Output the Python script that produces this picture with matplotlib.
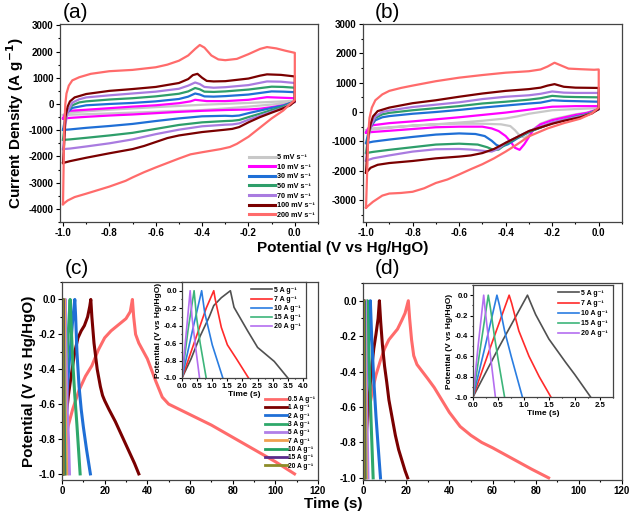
import matplotlib
matplotlib.use("Agg")
import matplotlib.pyplot as plt
from matplotlib.ticker import MultipleLocator

plt.rcParams['font.family'] = ['Liberation Sans', 'DejaVu Sans']
plt.rcParams['font.weight'] = 'bold'
plt.rcParams['axes.unicode_minus'] = False
plt.rcParams['mathtext.default'] = 'bf'

# ---------------- (a) CV data ----------------
cv_labels = ['5 mV s⁻¹', '10 mV s⁻¹', '30 mV s⁻¹', '50 mV s⁻¹',
             '70 mV s⁻¹', '100 mV s⁻¹', '200 mV s⁻¹']
cv_colors = ['#C8C8C8', '#FF00FF', '#1F6FD6', '#2E9E6A', '#A97BE0', '#7A0000', '#FF6B6B']

a5_E = [-1.0, -0.98, -0.9, -0.8, -0.6, -0.4, -0.2, -0.1, 0.0, 0.0, -0.1, -0.2, -0.3, -0.4, -0.6, -0.8, -1.0]
a5_I = [-420, -330, -280, -220, -120, -30, 40, 80, 120, 60, -20, -100, -170, -230, -300, -360, -420]
a10_E = [-1.0, -0.99, -0.97, -0.9, -0.8, -0.7, -0.6, -0.5, -0.45, -0.43, -0.41, -0.38, -0.3, -0.2, -0.12, -0.06, 0.0, 0.0,
         -0.05, -0.1, -0.15, -0.2, -0.3, -0.4, -0.5, -0.6, -0.7, -0.8, -0.9, -0.97, -1.0]
a10_I = [-550, -350, -260, -220, -160, -100, -50, 30, 100, 160, 140, 110, 110, 160, 260, 240, 220, 80,
         -50, -120, -180, -210, -230, -260, -300, -350, -400, -440, -490, -530, -550]
a30_E = [-1.0, -0.99, -0.98, -0.96, -0.9, -0.8, -0.7, -0.6, -0.5, -0.46, -0.43, -0.41, -0.39, -0.35, -0.3, -0.2, -0.1, -0.05, 0.0, 0.0,
         -0.05, -0.1, -0.15, -0.2, -0.24, -0.27, -0.3, -0.4, -0.5, -0.6, -0.7, -0.8, -0.9, -0.97, -1.0]
a30_I = [-990, -500, -300, -150, -50, 0, 40, 100, 190, 280, 400, 360, 290, 280, 300, 360, 480, 470, 450, 100,
         -60, -150, -250, -350, -440, -460, -450, -470, -550, -650, -760, -840, -910, -970, -990]
a50_E = [-1.0, -0.99, -0.98, -0.96, -0.93, -0.9, -0.8, -0.7, -0.6, -0.5, -0.46, -0.43, -0.41, -0.39, -0.35, -0.3, -0.2, -0.1, -0.05, 0.0, 0.0,
         -0.05, -0.1, -0.15, -0.2, -0.24, -0.27, -0.3, -0.4, -0.5, -0.6, -0.7, -0.8, -0.9, -0.97, -1.0]
a50_I = [-1370, -600, -250, -50, 60, 100, 170, 220, 290, 390, 480, 610, 560, 470, 460, 480, 550, 660, 650, 620, 100,
         -100, -230, -370, -500, -610, -640, -650, -700, -800, -950, -1100, -1200, -1290, -1350, -1370]
a70_E = [-1.0, -0.99, -0.98, -0.96, -0.93, -0.9, -0.8, -0.7, -0.6, -0.5, -0.46, -0.43, -0.41, -0.39, -0.35, -0.3, -0.2, -0.12, -0.06, 0.0, 0.0,
         -0.05, -0.1, -0.15, -0.2, -0.24, -0.27, -0.3, -0.4, -0.5, -0.6, -0.7, -0.8, -0.9, -0.97, -1.0]
a70_I = [-1720, -800, -300, 50, 180, 250, 330, 400, 470, 580, 700, 820, 760, 650, 620, 640, 720, 860, 850, 800, 100,
         -150, -300, -450, -600, -740, -780, -790, -850, -980, -1150, -1350, -1500, -1620, -1700, -1720]
a100_E = [-1.0, -0.995, -0.99, -0.98, -0.97, -0.95, -0.9, -0.8, -0.7, -0.6, -0.5, -0.46, -0.44, -0.42, -0.4, -0.38, -0.35, -0.3, -0.2, -0.15,
          -0.12, -0.06, 0.0, 0.0, -0.02, -0.06, -0.1, -0.15, -0.2, -0.24, -0.27, -0.3, -0.4, -0.5, -0.55, -0.6, -0.65, -0.7, -0.8, -0.9, -0.97, -1.0]
a100_I = [-2250, -1500, -500, -100, 100, 250, 380, 500, 570, 650, 800, 950, 1100, 1150, 1000, 880, 860, 870, 970, 1080,
          1130, 1110, 1050, 100, -50, -200, -330, -500, -700, -880, -950, -980, -1070, -1200, -1300, -1450, -1600, -1720, -1880, -2050, -2180, -2250]
a200_E = [-1.0, -0.995, -0.99, -0.985, -0.975, -0.96, -0.93, -0.88, -0.8, -0.7, -0.6, -0.55, -0.5, -0.46, -0.43, -0.41, -0.39, -0.36,
          -0.33, -0.3, -0.25, -0.2, -0.15, -0.12, -0.08, -0.04, 0.0, 0.0, -0.02, -0.05, -0.1, -0.15, -0.2, -0.25, -0.28, -0.32, -0.4,
          -0.45, -0.5, -0.55, -0.6, -0.65, -0.7, -0.73, -0.8, -0.9, -0.95, -0.98, -1.0]
a200_I = [-3820, -1000, 0, 400, 700, 900, 1020, 1150, 1250, 1300, 1400, 1500, 1650, 1850, 2100, 2250, 2150, 1850,
          1700, 1670, 1720, 1900, 2100, 2170, 2120, 2030, 1950, 150, 0, -250, -550, -900, -1250, -1520, -1640, -1720, -1840,
          -1920, -2080, -2250, -2420, -2600, -2800, -2930, -3150, -3420, -3550, -3680, -3820]

# ---------------- (b) CV data ----------------
b5_E = [-1.0, -0.98, -0.9, -0.8, -0.7, -0.6, -0.5, -0.4, -0.35, -0.3, -0.25, -0.2, -0.1, 0.0, 0.0,
        -0.05, -0.1, -0.2, -0.25, -0.28, -0.3, -0.32, -0.34, -0.36, -0.38, -0.42, -0.5, -0.6, -0.7, -0.8, -0.9, -1.0]
b5_I = [-620, -560, -520, -470, -420, -360, -300, -220, -150, -60, 0, 60, 100, 130, 80,
        -20, -80, -250, -400, -580, -780, -880, -800, -620, -480, -420, -400, -400, -420, -460, -540, -620]
b10_E = [-1.0, -0.99, -0.97, -0.9, -0.8, -0.7, -0.6, -0.5, -0.4, -0.3, -0.2, -0.1, 0.0, 0.0,
         -0.05, -0.1, -0.2, -0.25, -0.28, -0.3, -0.32, -0.34, -0.36, -0.38, -0.4, -0.43, -0.46, -0.5, -0.6, -0.7, -0.8, -0.9, -0.97, -1.0]
b10_I = [-700, -550, -450, -380, -320, -250, -180, -100, -20, 80, 180, 200, 200, 100,
         -30, -100, -280, -420, -600, -850, -1100, -1290, -1220, -1000, -820, -650, -560, -500, -500, -520, -580, -640, -680, -700]
b30_E = [-1.0, -0.99, -0.98, -0.96, -0.93, -0.9, -0.8, -0.7, -0.6, -0.5, -0.4, -0.3, -0.25, -0.2, -0.15, -0.1, 0.0, 0.0,
         -0.05, -0.1, -0.2, -0.3, -0.35, -0.39, -0.42, -0.44, -0.46, -0.49, -0.53, -0.6, -0.7, -0.8, -0.9, -0.97, -1.0]
b30_I = [-1060, -700, -500, -280, -180, -140, -60, 0, 70, 150, 220, 290, 320, 400, 380, 370, 350, 100,
         -80, -160, -380, -680, -900, -1100, -1190, -1120, -980, -820, -750, -730, -770, -850, -940, -1010, -1060]
b50_E = [-1.0, -0.99, -0.98, -0.96, -0.93, -0.9, -0.8, -0.7, -0.6, -0.5, -0.4, -0.3, -0.25, -0.2, -0.15, -0.1, 0.0, 0.0,
         -0.05, -0.1, -0.2, -0.3, -0.35, -0.4, -0.43, -0.45, -0.48, -0.52, -0.6, -0.7, -0.8, -0.9, -0.97, -1.0]
b50_I = [-1400, -800, -500, -200, -80, -30, 60, 130, 200, 290, 350, 420, 470, 550, 520, 510, 500, 100,
         -80, -170, -380, -680, -880, -1100, -1280, -1300, -1200, -1110, -1080, -1110, -1200, -1290, -1360, -1400]
b70_E = [-1.0, -0.99, -0.98, -0.96, -0.93, -0.9, -0.8, -0.7, -0.6, -0.5, -0.4, -0.3, -0.25, -0.2, -0.15, -0.1, 0.0, 0.0,
         -0.05, -0.1, -0.2, -0.3, -0.35, -0.4, -0.43, -0.46, -0.5, -0.55, -0.6, -0.7, -0.8, -0.9, -0.97, -1.0]
b70_I = [-1660, -900, -500, -150, 0, 50, 170, 250, 330, 440, 520, 570, 620, 700, 660, 650, 650, 100,
         -100, -180, -350, -650, -850, -1050, -1250, -1350, -1320, -1280, -1260, -1270, -1350, -1480, -1580, -1660]
b100_E = [-1.0, -0.995, -0.99, -0.98, -0.97, -0.95, -0.9, -0.8, -0.7, -0.6, -0.5, -0.4, -0.3, -0.25, -0.22, -0.19, -0.15, -0.1, 0.0, 0.0,
          -0.03, -0.08, -0.15, -0.2, -0.3, -0.35, -0.4, -0.45, -0.5, -0.55, -0.6, -0.7, -0.8, -0.9, -0.95, -0.98, -1.0]
b100_I = [-2070, -1400, -800, -400, -150, 30, 150, 300, 400, 520, 630, 720, 780, 830, 900, 950, 860, 830, 820, 100,
          -50, -180, -300, -400, -650, -850, -1050, -1260, -1400, -1480, -1520, -1580, -1670, -1740, -1800, -1900, -2070]
b200_E = [-1.0, -0.995, -0.99, -0.985, -0.975, -0.96, -0.93, -0.9, -0.85, -0.8, -0.7, -0.6, -0.5, -0.4, -0.3, -0.25, -0.22, -0.19,
          -0.16, -0.13, -0.08, -0.02, 0.0, 0.0, -0.03, -0.08, -0.15, -0.22, -0.3, -0.35, -0.4, -0.45, -0.5, -0.55, -0.6, -0.65,
          -0.7, -0.75, -0.8, -0.85, -0.9, -0.93, -0.97, -1.0]
b200_I = [-3260, -2000, -700, -200, 150, 400, 600, 720, 820, 900, 1050, 1170, 1260, 1340, 1390, 1450, 1550, 1680,
          1580, 1480, 1460, 1440, 1450, 150, -50, -230, -380, -560, -830, -1100, -1350, -1580, -1780, -1950, -2130, -2300,
          -2420, -2600, -2720, -2760, -2780, -2850, -3060, -3260]

# ---------------- GCD data ----------------
gcd_labels = ['0.5 A g⁻¹', '1 A g⁻¹', '2 A g⁻¹', '3 A g⁻¹', '5 A g⁻¹',
              '7 A g⁻¹', '10 A g⁻¹', '15 A g⁻¹', '20 A g⁻¹']
gcd_colors = ['#FF6B6B', '#7A0000', '#1F6FD6', '#2EA86A', '#B07FE8', '#F0A050', '#20A060', '#5A2C8C', '#8C8C28']
inset_labels = ['5 A g⁻¹', '7 A g⁻¹', '10 A g⁻¹', '15 A g⁻¹', '20 A g⁻¹']
inset_colors = ['#505050', '#FF2A2A', '#2A7DE1', '#3DB57A', '#B46EF0']

c05_t = [0, 0.5, 1.5, 3, 5, 8, 11, 14, 17, 20, 23, 27, 30, 32, 33, 33.6, 34.5, 36, 40, 44, 47, 50, 55, 60, 70, 80, 90, 100, 109]
c05_V = [-1.0, -0.93, -0.82, -0.72, -0.63, -0.52, -0.44, -0.38, -0.29, -0.22, -0.18, -0.14, -0.11, -0.07, 0.0, -0.1, -0.2,
         -0.25, -0.34, -0.47, -0.56, -0.60, -0.63, -0.66, -0.72, -0.79, -0.86, -0.93, -1.0]
c1_t = [0, 0.5, 1.5, 3, 4.5, 6, 7.5, 9, 10.5, 12, 13, 13.5, 14, 15, 16.5, 18, 19, 20, 22, 25, 28, 31, 34, 36]
c1_V = [-1.0, -0.88, -0.72, -0.55, -0.42, -0.3, -0.22, -0.18, -0.15, -0.1, -0.04, 0.0, -0.1, -0.25, -0.4, -0.5, -0.55,
        -0.58, -0.63, -0.7, -0.78, -0.86, -0.94, -1.0]
c2_t = [0, 1, 2, 3, 4, 5, 6.0, 6.4, 7, 8, 9, 10, 11.5, 13.3]
c2_V = [-1.0, -0.78, -0.6, -0.42, -0.27, -0.12, 0.0, -0.1, -0.3, -0.5, -0.63, -0.73, -0.86, -1.0]
c3_t = [0, 1, 2, 3, 3.8, 4.3, 5, 6, 7, 8.5]
c3_V = [-1.0, -0.72, -0.45, -0.18, 0.0, -0.15, -0.35, -0.55, -0.72, -1.0]
c5_t = [0, 0.3, 0.6, 0.9, 1.05, 1.3, 1.6, 1.72, 2.17, 2.5, 3.05, 3.5]
c5_V = [-1.0, -0.78, -0.52, -0.3, -0.17, -0.08, 0.0, -0.19, -0.46, -0.65, -0.81, -1.0]
c7_t = [0, 0.5, 0.8, 1.05, 1.1, 1.3, 1.5, 1.8, 2.2]
c7_V = [-1.0, -0.5, -0.2, 0.0, -0.1, -0.42, -0.62, -0.78, -1.0]
c10_t = [0, 0.35, 0.65, 0.75, 1.0, 1.35]
c10_V = [-1.0, -0.45, 0.0, -0.25, -0.62, -1.0]
c15_t = [0, 0.2, 0.4, 0.48, 0.6, 0.8]
c15_V = [-1.0, -0.45, 0.0, -0.3, -0.6, -1.0]
c20_t = [0, 0.27, 0.33, 0.45, 0.58]
c20_V = [-1.0, 0.0, -0.3, -0.65, -1.0]

d05_t = [0, 0.5, 1.5, 3, 4.5, 6, 8, 10, 12, 14, 16, 18, 19.5, 21, 21.6, 22.5, 23.5, 25, 27.5, 30, 33, 36, 40, 45, 50, 55,
         60, 66, 72, 78, 86]
d05_V = [-1.0, -0.9, -0.75, -0.6, -0.5, -0.42, -0.34, -0.27, -0.22, -0.19, -0.16, -0.11, -0.07, 0.0, -0.1, -0.22, -0.31,
         -0.36, -0.40, -0.44, -0.49, -0.55, -0.63, -0.71, -0.76, -0.8, -0.83, -0.87, -0.91, -0.95, -1.0]
d1_t = [0, 1, 2, 3, 4, 5, 6, 7, 7.6, 8.2, 9, 10, 11, 12, 13.5, 15, 16.5, 18, 19.5, 20.7]
d1_V = [-1.0, -0.82, -0.66, -0.52, -0.38, -0.27, -0.19, -0.1, 0.0, -0.12, -0.25, -0.37, -0.46, -0.56, -0.66, -0.76,
        -0.84, -0.9, -0.96, -1.0]
d2_t = [0, 1, 2, 3, 3.4, 4, 5, 6, 7, 8.1]
d2_V = [-1.0, -0.7, -0.42, -0.12, 0.0, -0.2, -0.45, -0.65, -0.82, -1.0]
d3_t = [0, 1, 2, 2.4, 3, 3.8, 4.7]
d3_V = [-1.0, -0.5, 0.0, -0.15, -0.4, -0.7, -1.0]
d5_t = [0, 0.5, 1.07, 1.12, 1.23, 1.49, 1.82, 2.0, 2.31]
d5_V = [-1.0, -0.52, 0.0, -0.06, -0.19, -0.43, -0.66, -0.78, -1.0]
d7_t = [0, 0.35, 0.71, 0.76, 0.9, 1.1, 1.3, 1.53]
d7_V = [-1.0, -0.5, 0.0, -0.08, -0.35, -0.6, -0.8, -1.0]
d10_t = [0, 0.24, 0.47, 0.52, 0.62, 0.75, 0.97]
d10_V = [-1.0, -0.5, 0.0, -0.1, -0.35, -0.6, -1.0]
d15_t = [0, 0.15, 0.3, 0.34, 0.42, 0.5, 0.62]
d15_V = [-1.0, -0.5, 0.0, -0.12, -0.4, -0.65, -1.0]
d20_t = [0, 0.1, 0.21, 0.24, 0.32, 0.44]
d20_V = [-1.0, -0.5, 0.0, -0.15, -0.5, -1.0]

cv_a = [(a5_E, a5_I), (a10_E, a10_I), (a30_E, a30_I), (a50_E, a50_I), (a70_E, a70_I), (a100_E, a100_I), (a200_E, a200_I)]
cv_b = [(b5_E, b5_I), (b10_E, b10_I), (b30_E, b30_I), (b50_E, b50_I), (b70_E, b70_I), (b100_E, b100_I), (b200_E, b200_I)]
gcd_c = [(c05_t, c05_V), (c1_t, c1_V), (c2_t, c2_V), (c3_t, c3_V), (c5_t, c5_V), (c7_t, c7_V), (c10_t, c10_V),
         (c15_t, c15_V), (c20_t, c20_V)]
gcd_d = [(d05_t, d05_V), (d1_t, d1_V), (d2_t, d2_V), (d3_t, d3_V), (d5_t, d5_V), (d7_t, d7_V), (d10_t, d10_V),
         (d15_t, d15_V), (d20_t, d20_V)]

W, H = 633, 519
fig = plt.figure(figsize=(W / 100, H / 100), dpi=100)


def ax_px(l, t, r, b):
    return fig.add_axes([l / W, 1 - b / H, (r - l) / W, (b - t) / H])


def style(ax, fs=7, major_len=3.0, minor_len=1.6):
    for s in ax.spines.values():
        s.set_linewidth(0.9)
        s.set_color('#444444')
    ax.tick_params(which='both', direction='out', top=False, right=False, width=0.8, labelsize=fs, pad=1.5)
    ax.tick_params(which='major', length=major_len)
    ax.tick_params(which='minor', length=minor_len)
    for lab in ax.get_xticklabels() + ax.get_yticklabels():
        lab.set_fontweight('bold')


def bold_legend(leg, lw):
    for h in leg.get_lines():
        h.set_linewidth(lw)
    for t in leg.get_texts():
        t.set_fontweight('bold')


axA = ax_px(60, 24, 318, 222)
axB = ax_px(363, 24, 622, 222)
axC = ax_px(62, 282, 318, 480)
axD = ax_px(363, 283, 622, 480)
inC = ax_px(182, 282, 306, 378)
inD = ax_px(473, 285, 613, 397)

for ax, data in ((axA, cv_a), (axB, cv_b)):
    for (E, I), c, lab in zip(data, cv_colors, cv_labels):
        ax.plot(E, I, color=c, lw=1.6, label=lab, solid_joinstyle='round')
    ax.set_xlim(-1.013, 0.1)
    ax.xaxis.set_major_locator(MultipleLocator(0.2))
    ax.xaxis.set_minor_locator(MultipleLocator(0.1))
    ax.yaxis.set_major_locator(MultipleLocator(1000))
    ax.yaxis.set_minor_locator(MultipleLocator(500))
    ax.xaxis.set_major_formatter(matplotlib.ticker.FormatStrFormatter('%.1f'))
axA.set_ylim(-4500, 3050)
axB.set_ylim(-3750, 3000)
for ax in (axA, axB):
    style(ax)

legA = axA.legend(loc='lower right', bbox_to_anchor=(1.0, 0.0), frameon=False, fontsize=5.2,
                  handlelength=3.6, handletextpad=0.2, labelspacing=0.35, borderaxespad=0.25,
                  borderpad=0.2)
bold_legend(legA, 2.2)

for ax, data in ((axC, gcd_c), (axD, gcd_d)):
    for (t, V), c, lab in zip(data, gcd_colors, gcd_labels):
        ax.plot(t, V, color=c, lw=2.2, label=lab, solid_joinstyle='round')
    ax.set_xlim(0, 120)
    ax.xaxis.set_major_locator(MultipleLocator(20))
    ax.xaxis.set_minor_locator(MultipleLocator(10))
    ax.yaxis.set_major_locator(MultipleLocator(0.2))
    ax.yaxis.set_minor_locator(MultipleLocator(0.1))
    ax.yaxis.set_major_formatter(matplotlib.ticker.FormatStrFormatter('%.1f'))
    style(ax)
axC.set_ylim(-1.035, 0.1)
axD.set_ylim(-1.012, 0.1)

legC = axC.legend(loc='lower right', bbox_to_anchor=(1.0, 0.035), frameon=False, fontsize=4.8,
                  handlelength=3.2, handletextpad=0.15, labelspacing=0.2, borderaxespad=0.3,
                  borderpad=0.2)
bold_legend(legC, 2.0)

for ax, data, xl, xmaj, lsp in ((inC, gcd_c[4:], (0, 4.1), 0.5, 0.3), (inD, gcd_d[4:], (0, 2.75), 0.5, 0.45)):
    for (t, V), c, lab in zip(data, inset_colors, inset_labels):
        ax.plot(t, V, color=c, lw=1.2, label=lab)
    ax.set_xlim(*xl)
    ax.set_ylim(-1.0, 0.1)
    ax.xaxis.set_major_locator(MultipleLocator(xmaj))
    ax.yaxis.set_major_locator(MultipleLocator(0.2))
    ax.xaxis.set_major_formatter(matplotlib.ticker.FormatStrFormatter('%.1f'))
    ax.yaxis.set_major_formatter(matplotlib.ticker.FormatStrFormatter('%.1f'))
    ax.yaxis.set_minor_locator(MultipleLocator(0.1))
    ax.xaxis.set_minor_locator(MultipleLocator(xmaj / 2))
    style(ax, fs=5.6, major_len=2.0, minor_len=1.0)
    ax.set_xlabel('Time (s)', fontsize=6, fontweight='bold', labelpad=1)
    ax.set_ylabel('Potential (V vs Hg/HgO)', fontsize=6, fontweight='bold', labelpad=1)
    leg = ax.legend(loc='upper right', frameon=False, fontsize=5, handlelength=3.0, handletextpad=0.3,
                    labelspacing=lsp, borderaxespad=0.3)
    bold_legend(leg, 1.2)

axA.set_ylabel('Current Density (A g$^{-1}$)', fontsize=11, fontweight='bold', labelpad=2)
axC.set_ylabel('Potential (V vs Hg/HgO)', fontsize=11, fontweight='bold', labelpad=2)
fig.text(343 / W, 1 - 248 / H, 'Potential (V vs Hg/HgO)', fontsize=11, fontweight='bold', ha='center', va='center')
fig.text(333 / W, 1 - 504 / H, 'Time (s)', fontsize=11, fontweight='bold', ha='center', va='center')

for x, y, s in ((76, 13, '(a)'), (387, 12, '(b)'), (77, 269, '(c)'), (388, 268, '(d)')):
    fig.text(x / W, 1 - y / H, s, fontsize=15, fontweight='normal', ha='center', va='center')

fig.savefig('out.png', dpi=100)
